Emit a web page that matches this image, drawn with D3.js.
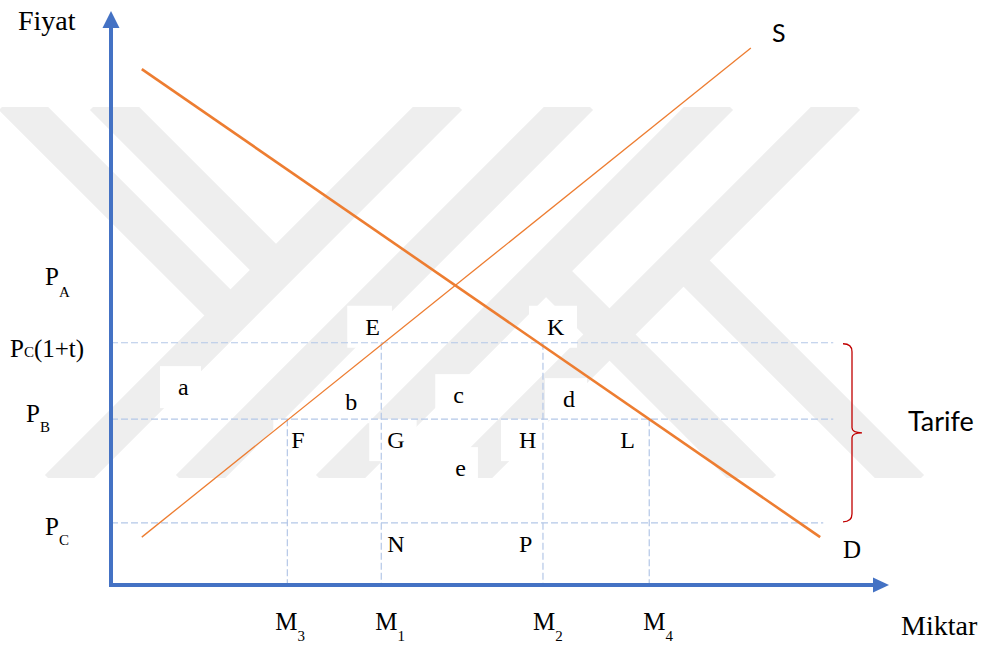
<!DOCTYPE html>
<html>
<head>
<meta charset="utf-8">
<script src="https://cdn.jsdelivr.net/npm/d3@7"></script>
<style>
  html, body { margin: 0; padding: 0; background: #fff; }
  svg { display: block; }
  .serif { font-family: "Liberation Serif", "Times New Roman", "DejaVu Serif", serif; fill: #000; }
  .sans { font-family: Lato, Carlito, "Open Sans", sans-serif; fill: #000; }
</style>
</head>
<body>
<div id="chart"></div>
<script>
// Values (arbitrary units, 0-10 on both axes)
const quantityNames = ['M', 'M', 'M', 'M'];
const quantitySubs = ['3', '1', '2', '4'];
const quantityValues = [2.29, 3.51, 5.61, 6.99];

const priceNames = ['P', 'P', 'P', 'P'];
const priceSubs = ['A', 'C', 'B', 'C'];
const priceSuffix = ['', '(1+t)', '', ''];
const priceValues = [5.26, 4.25, 2.91, 1.09];

const demandPoints = [[0.40, 9.05], [9.21, 0.84]];
const supplyPoints = [[0.40, 0.84], [8.31, 9.42]];

// dashed guides: horizontal ones for PC(1+t), PB, PC; vertical ones for M3, M1, M2, M4
const hGuidePrices = [4.25, 2.91, 1.09];
const hGuideEnds = [9.38, 9.38, 9.25];
const vGuideTops = [2.91, 4.25, 4.25, 2.91];

// corner labels: quantity index, price index
const pointNames = ['E', 'K', 'F', 'G', 'H', 'L', 'N', 'P'];
const pointQ = [1, 2, 0, 1, 2, 3, 1, 2];
const pointP = [1, 1, 2, 2, 2, 2, 3, 3];

// welfare areas a..e
const areaNames = ['a', 'b', 'c', 'd', 'e'];

const width = 984, height = 646;
const orange = '#ED7D31', blue = '#4472C4', guide = '#B4C7E7', red = '#C00000';

const x = d3.scaleLinear().domain([0, 10]).range([111, 881]);
const y = d3.scaleLinear().domain([0, 10]).range([585, 15]);

const svg = d3.select('#chart')
    .append('svg')
    .attr('width', width)
    .attr('height', height)
    .style('background-color', '#fff');

// Watermark (faint gray bands in the background)
const wmTop = 107, wmBottom = 478;
svg.append('defs').append('clipPath')
    .attr('id', 'wm-clip')
    .append('rect')
    .attr('x', 0).attr('y', wmTop)
    .attr('width', width).attr('height', wmBottom - wmTop);

const wmBands = [];
[439, 570, 710, 837].forEach(t => wmBands.push([[t + 10, wmTop - 10], [t - 381, wmBottom + 10]]));
wmBands.push([[12, 97], [230.5, 315.5]]);
wmBands.push([[103, 97], [276, 270]]);
wmBands.push([[546, 271], [763, 488]]);
wmBands.push([[683.5, 260.5], [911, 488]]);

svg.append('g')
    .attr('clip-path', 'url(#wm-clip)')
    .selectAll('path')
    .data(wmBands)
    .enter()
    .append('path')
    .attr('d', d3.line())
    .attr('fill', 'none')
    .attr('stroke', '#eeeeee')
    .attr('stroke-width', 37)
    .attr('stroke-linecap', 'butt');

const boxLayer = svg.append('g');

// Dashed guides
const guides = svg.append('g')
    .attr('stroke', guide)
    .attr('stroke-width', 1.2)
    .attr('stroke-dasharray', '7,3')
    .attr('fill', 'none');

guides.selectAll('.hguide')
    .data(hGuidePrices)
    .enter()
    .append('line')
    .attr('class', 'hguide')
    .attr('x1', x(0))
    .attr('x2', (d, i) => x(hGuideEnds[i]))
    .attr('y1', d => y(d))
    .attr('y2', d => y(d));

guides.selectAll('.vguide')
    .data(quantityValues)
    .enter()
    .append('line')
    .attr('class', 'vguide')
    .attr('x1', d => x(d))
    .attr('x2', d => x(d))
    .attr('y1', (d, i) => y(vGuideTops[i]))
    .attr('y2', y(0));

// Tariff brace
const bTop = y(priceValues[1]) + 1, bBot = y(priceValues[3]) - 1;
const bMid = (bTop + bBot) / 2, bx = 843;
svg.append('path')
    .attr('d', `M${bx},${bTop} Q${bx + 9},${bTop} ${bx + 9},${bTop + 8} L${bx + 9},${bMid - 5}
        Q${bx + 9},${bMid} ${bx + 19},${bMid} Q${bx + 9},${bMid} ${bx + 9},${bMid + 5}
        L${bx + 9},${bBot - 8} Q${bx + 9},${bBot} ${bx},${bBot}`)
    .attr('fill', 'none')
    .attr('stroke', red)
    .attr('stroke-width', 1.3);

// Supply and demand
const line = d3.line().x(d => x(d[0])).y(d => y(d[1]));
svg.append('path')
    .attr('d', line(demandPoints))
    .attr('stroke', orange)
    .attr('stroke-width', 2.6)
    .attr('fill', 'none');
svg.append('path')
    .attr('d', line(supplyPoints))
    .attr('stroke', orange)
    .attr('stroke-width', 1.3)
    .attr('fill', 'none');

// Axes with arrow heads
const axes = svg.append('g');
axes.append('line')
    .attr('x1', x(0)).attr('x2', x(0))
    .attr('y1', y(0) + 2).attr('y2', 26)
    .attr('stroke', blue).attr('stroke-width', 4);
axes.append('line')
    .attr('x1', x(0) - 2).attr('x2', 876)
    .attr('y1', y(0)).attr('y2', y(0))
    .attr('stroke', blue).attr('stroke-width', 4);
axes.append('path')
    .attr('d', `M${x(0)},11 L${x(0) + 8.5},28 L${x(0) - 8.5},28 Z`)
    .attr('fill', blue);
axes.append('path')
    .attr('d', `M889,${y(0)} L873,${y(0) - 7.5} L873,${y(0) + 7.5} Z`)
    .attr('fill', blue);

// Text
const textLayer = svg.append('g');

textLayer.append('text').attr('class', 'serif')
    .attr('x', 18).attr('y', 30).attr('font-size', 28).text('Fiyat');
textLayer.append('text').attr('class', 'serif')
    .attr('x', 901).attr('y', 635).attr('font-size', 28).text('Miktar');
textLayer.append('text').attr('class', 'sans')
    .attr('x', 772).attr('y', 42).attr('font-size', 25).text('S');
textLayer.append('text').attr('class', 'serif')
    .attr('x', 843).attr('y', 558).attr('font-size', 25).text('D');
textLayer.append('text').attr('class', 'sans')
    .attr('x', 908).attr('y', 431).attr('font-size', 27).text('Tarife');

// price labels (left of the y axis)
const priceLabelX = [45, 10, 26, 45];
const priceLabelDy = [0, 14, 3, 12];
const priceSubDy = [12, 0, 10, 10];
const pl = textLayer.selectAll('.plabel')
    .data(priceValues)
    .enter()
    .append('text')
    .attr('class', 'serif plabel label-box')
    .attr('font-size', 25)
    .attr('x', (d, i) => priceLabelX[i])
    .attr('y', (d, i) => y(d) + priceLabelDy[i]);
pl.append('tspan').text((d, i) => priceNames[i]);
pl.append('tspan')
    .attr('font-size', 15)
    .attr('dy', (d, i) => priceSubDy[i])
    .text((d, i) => priceSubs[i]);
pl.append('tspan')
    .attr('dy', (d, i) => -priceSubDy[i])
    .text((d, i) => priceSuffix[i]);

// quantity labels (below the x axis)
const quantityLabelDx = [-12, -6, -10, -6];
const ql = textLayer.selectAll('.qlabel')
    .data(quantityValues)
    .enter()
    .append('text')
    .attr('class', 'serif qlabel')
    .attr('font-size', 25)
    .attr('x', (d, i) => x(d) + quantityLabelDx[i])
    .attr('y', 630);
ql.append('tspan').text((d, i) => quantityNames[i]);
ql.append('tspan')
    .attr('font-size', 15)
    .attr('dy', 11)
    .text((d, i) => quantitySubs[i]);

// corner labels
const pointOffsets = [[-16, -8], [4, -8], [4, 29], [6, 29], [-24, 29], [-29, 29], [6, 29], [-24, 29]];
textLayer.selectAll('.pt')
    .data(pointNames)
    .enter()
    .append('text')
    .attr('class', 'serif pt label-box')
    .attr('font-size', 24)
    .attr('x', (d, i) => x(quantityValues[pointQ[i]]) + pointOffsets[i][0])
    .attr('y', (d, i) => y(priceValues[pointP[i]]) + pointOffsets[i][1])
    .text(d => d);

// area labels, placed against the PB line
const areaAnchorQ = [0, quantityValues[0], quantityValues[1], quantityValues[2], quantityValues[1]];
const areaOffsets = [[67, -24], [58, -9], [72, -16], [20, -12], [74, 57]];
textLayer.selectAll('.area')
    .data(areaNames)
    .enter()
    .append('text')
    .attr('class', 'serif area label-box')
    .attr('font-size', 24)
    .attr('x', (d, i) => x(areaAnchorQ[i]) + areaOffsets[i][0])
    .attr('y', (d, i) => y(priceValues[2]) + areaOffsets[i][1])
    .text(d => d);

// white text boxes behind labels (they hide the watermark)
textLayer.selectAll('.label-box').each(function () {
    const b = this.getBBox();
    boxLayer.append('rect')
        .attr('x', Math.max(0, b.x - 18))
        .attr('y', b.y - 8)
        .attr('width', b.width + 30)
        .attr('height', b.height + 16)
        .attr('fill', '#fff');
});
</script>
</body>
</html>
